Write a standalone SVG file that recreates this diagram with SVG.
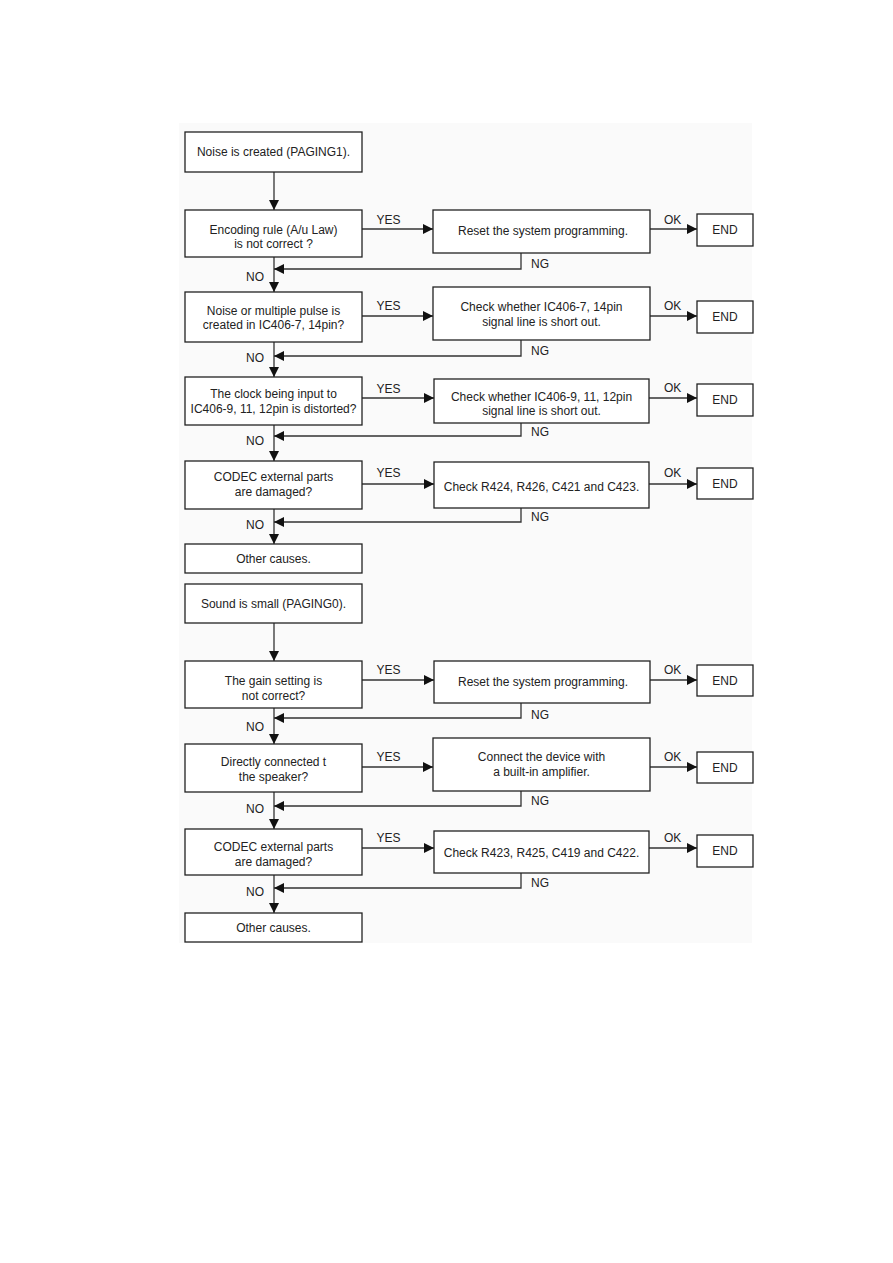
<svg xmlns="http://www.w3.org/2000/svg" width="893" height="1263" viewBox="0 0 893 1263">
<style>
.bx{fill:#fff;stroke:#222;stroke-width:1.3}
.ln{fill:none;stroke:#333;stroke-width:1.3}
text{font-family:"Liberation Sans",Arial,sans-serif;font-size:12px;fill:#222}
.c{text-anchor:middle}
</style>
<defs>
<marker id="ah" markerUnits="userSpaceOnUse" markerWidth="11" markerHeight="10" refX="10" refY="5" orient="auto">
<path d="M0,0 L10,5 L0,10 z" fill="#111"/>
</marker>
</defs>
<rect x="179" y="123" width="573" height="820" fill="#fafafa"/>

<g id="connectors" class="ln" marker-end="url(#ah)">
<path d="M274,172 V210"/>
<path d="M274,257 V292"/>
<path d="M274,342 V377"/>
<path d="M274,425 V461"/>
<path d="M274,509 V544"/>
<path d="M362,229 H433"/>
<path d="M650,229 H697"/>
<path d="M521,253 V269 H274"/>
<path d="M362,316 H433"/>
<path d="M650,316 H697"/>
<path d="M521,340 V356 H274"/>
<path d="M362,398 H434"/>
<path d="M649,398 H697"/>
<path d="M521,423 V436 H274"/>
<path d="M362,484 H434"/>
<path d="M649,484 H697"/>
<path d="M521,508 V522 H274"/>
<path d="M274,623 V661"/>
<path d="M274,708 V744"/>
<path d="M274,792 V829"/>
<path d="M274,875 V913"/>
<path d="M362,680 H434"/>
<path d="M650,680 H697"/>
<path d="M521,703 V718 H274"/>
<path d="M362,767 H433"/>
<path d="M650,767 H697"/>
<path d="M521,791 V806 H274"/>
<path d="M362,848 H434"/>
<path d="M649,848 H697"/>
<path d="M521,873 V888 H274"/>
</g>

<g id="labels">
<text x="376.5" y="224">YES</text><text x="664" y="224">OK</text><text x="531" y="268">NG</text><text x="255" y="281" class="c">NO</text>
<text x="376.5" y="310">YES</text><text x="664" y="310">OK</text><text x="531" y="355">NG</text><text x="255" y="362" class="c">NO</text>
<text x="376.5" y="393">YES</text><text x="664" y="392">OK</text><text x="531" y="436">NG</text><text x="255" y="445" class="c">NO</text>
<text x="376.5" y="477">YES</text><text x="664" y="477">OK</text><text x="531" y="521">NG</text><text x="255" y="529" class="c">NO</text>
<text x="376.5" y="674">YES</text><text x="664" y="674">OK</text><text x="531" y="719">NG</text><text x="255" y="731" class="c">NO</text>
<text x="376.5" y="761">YES</text><text x="664" y="761">OK</text><text x="531" y="805">NG</text><text x="255" y="813" class="c">NO</text>
<text x="376.5" y="842">YES</text><text x="664" y="842">OK</text><text x="531" y="887">NG</text><text x="255" y="896" class="c">NO</text>
</g>

<g id="n1"><rect class="bx" x="185" y="132" width="177" height="40"/><text x="273.5" y="156" class="c">Noise is created (PAGING1).</text></g>
<g id="n2"><rect class="bx" x="185" y="210" width="177" height="47"/><text x="273.5" y="234" class="c">Encoding rule (A/u Law)</text><text x="273.5" y="248" class="c">is not correct ?</text></g>
<g id="n3"><rect class="bx" x="433" y="210" width="217" height="43"/><text x="543" y="235" class="c">Reset the system programming.</text></g>
<g id="n4"><rect class="bx" x="697" y="214" width="56" height="32"/><text x="725" y="234" class="c">END</text></g>

<g id="n5"><rect class="bx" x="185" y="292" width="177" height="50"/><text x="273.5" y="315" class="c">Noise or multiple pulse is</text><text x="273.5" y="329" class="c">created in IC406-7, 14pin?</text></g>
<g id="n6"><rect class="bx" x="433" y="287" width="217" height="53"/><text x="541.5" y="311" class="c">Check whether IC406-7, 14pin</text><text x="541.5" y="326" class="c">signal line is short out.</text></g>
<g id="n7"><rect class="bx" x="697" y="301" width="56" height="32"/><text x="725" y="321" class="c">END</text></g>

<g id="n8"><rect class="bx" x="185" y="377" width="177" height="48"/><text x="273.5" y="398" class="c">The clock being input to</text><text x="273.5" y="413" class="c">IC406-9, 11, 12pin is distorted?</text></g>
<g id="n9"><rect class="bx" x="434" y="379" width="215" height="44"/><text x="541.5" y="401" class="c">Check whether IC406-9, 11, 12pin</text><text x="541.5" y="415" class="c">signal line is short out.</text></g>
<g id="n10"><rect class="bx" x="697" y="384" width="56" height="32"/><text x="725" y="404" class="c">END</text></g>

<g id="n11"><rect class="bx" x="185" y="461" width="177" height="48"/><text x="273.5" y="481" class="c">CODEC external parts</text><text x="273.5" y="496" class="c">are damaged?</text></g>
<g id="n12"><rect class="bx" x="434" y="462" width="215" height="46"/><text x="541.5" y="491" class="c">Check R424, R426, C421 and C423.</text></g>
<g id="n13"><rect class="bx" x="697" y="468" width="56" height="31"/><text x="725" y="488" class="c">END</text></g>

<g id="n14"><rect class="bx" x="185" y="544" width="177" height="29"/><text x="273.5" y="563" class="c">Other causes.</text></g>

<g id="n15"><rect class="bx" x="185" y="584" width="177" height="39"/><text x="273.5" y="608" class="c">Sound is small (PAGING0).</text></g>
<g id="n16"><rect class="bx" x="185" y="661" width="177" height="47"/><text x="273.5" y="685" class="c">The gain setting is</text><text x="273.5" y="700" class="c">not correct?</text></g>
<g id="n17"><rect class="bx" x="434" y="661" width="216" height="42"/><text x="543" y="686" class="c">Reset the system programming.</text></g>
<g id="n18"><rect class="bx" x="697" y="665" width="56" height="31"/><text x="725" y="685" class="c">END</text></g>

<g id="n19"><rect class="bx" x="185" y="744" width="177" height="48"/><text x="273.5" y="766" class="c">Directly connected t</text><text x="273.5" y="781" class="c">the speaker?</text></g>
<g id="n20"><rect class="bx" x="433" y="738" width="217" height="53"/><text x="541.5" y="761" class="c">Connect the device with</text><text x="541.5" y="776" class="c">a built-in amplifier.</text></g>
<g id="n21"><rect class="bx" x="697" y="752" width="56" height="31"/><text x="725" y="772" class="c">END</text></g>

<g id="n22"><rect class="bx" x="185" y="829" width="177" height="46"/><text x="273.5" y="851" class="c">CODEC external parts</text><text x="273.5" y="866" class="c">are damaged?</text></g>
<g id="n23"><rect class="bx" x="434" y="831" width="215" height="42"/><text x="541.5" y="857" class="c">Check R423, R425, C419 and C422.</text></g>
<g id="n24"><rect class="bx" x="697" y="835" width="56" height="32"/><text x="725" y="855" class="c">END</text></g>

<g id="n25"><rect class="bx" x="185" y="913" width="177" height="29"/><text x="273.5" y="932" class="c">Other causes.</text></g>
</svg>
